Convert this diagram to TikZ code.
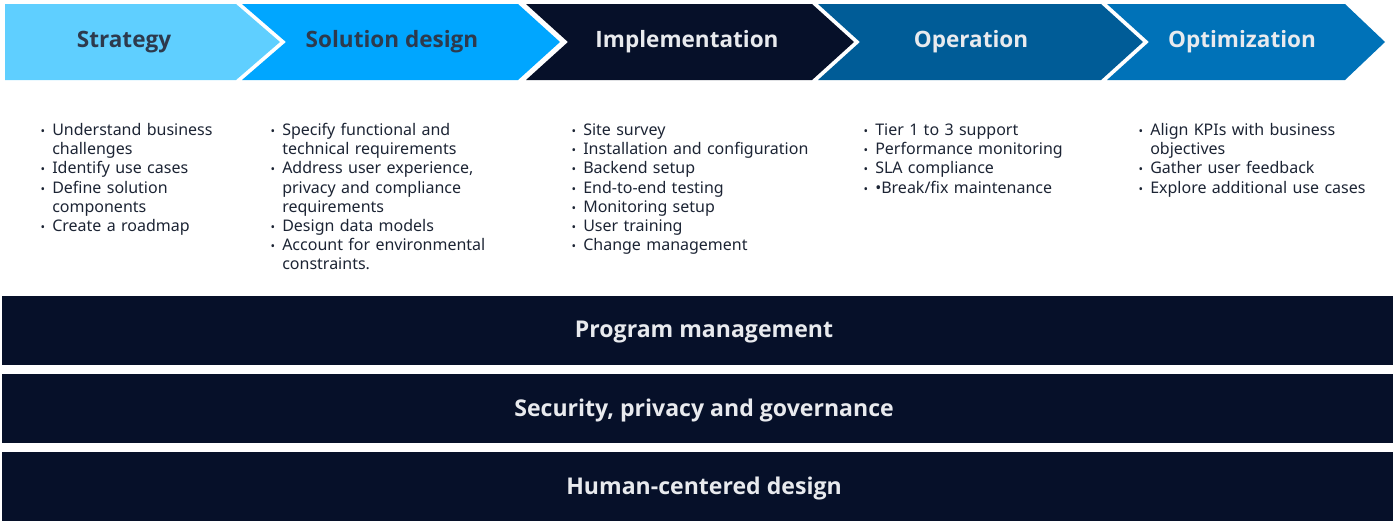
\documentclass[tikz,border=0pt]{standalone}
\usepackage{fontspec}
\setmainfont{Noto Sans}
\newfontfamily\headfont{Open Sans}
\usepackage{enumitem}
\usetikzlibrary{positioning}

\definecolor{skyblue}{RGB}{95,207,255}
\definecolor{brightblue}{RGB}{0,166,255}
\definecolor{nightblue}{RGB}{6,16,41}
\definecolor{deepblue}{RGB}{0,92,151}
\definecolor{oceanblue}{RGB}{0,114,184}
\definecolor{slateink}{RGB}{45,58,77}
\definecolor{bodyink}{RGB}{28,36,52}
\definecolor{paleink}{RGB}{232,234,238}

\tikzstyle{phase}=[
	inner sep=0pt,
	font=\headfont\fontsize{16.9}{19}\selectfont\bfseries
]
\tikzstyle{tasks}=[
	anchor=north west,
	inner sep=0pt,
	text width=220pt,
	text=bodyink,
	font=\fontsize{12}{14.4}\selectfont
]
\tikzstyle{band}=[
	rectangle,
	fill=nightblue,
	inner sep=0pt,
	outer sep=0pt,
	minimum width=1043.25pt,
	minimum height=51.75pt,
	node distance=6.75pt
]
\tikzstyle{bandlabel}=[
	text=paleink,
	xshift=4.9pt,
	yshift=-1.2pt,
	font=\headfont\fontsize{17.3}{20}\selectfont\bfseries
]
\setlist[itemize]{nosep, leftmargin=11.25pt, labelsep=5.4pt,
	label={\fontsize{9}{9}\selectfont\textbullet}}

\begin{document}
\begin{tikzpicture}[x=0.75pt, y=-0.75pt]
\useasboundingbox (0,0) rectangle (1395,522);

% phases
\fill[skyblue] (5,4) -- (236,4) -- (280,42) -- (236,80) -- (5,80) -- cycle;
\fill[brightblue] (242,4) -- (518,4) -- (560,42) -- (518,80) -- (242,80) -- (286,42) -- cycle;
\fill[nightblue] (526,4) -- (812,4) -- (854,42) -- (812,80) -- (526,80) -- (568,42) -- cycle;
\fill[deepblue] (818,4) -- (1101,4) -- (1143,42) -- (1101,80) -- (818,80) -- (860,42) -- cycle;
\fill[oceanblue] (1107,4) -- (1345,4) -- (1385,42) -- (1345,80) -- (1107,80) -- (1149,42) -- cycle;

\node [phase, text=slateink] (Strategy) at (124,42) {Strategy};
\node [phase, text=slateink] (SolutionDesign) at (392,42) {Solution design};
\node [phase, text=paleink] (Implementation) at (687,42) {Implementation};
\node [phase, text=paleink] (Operation) at (971,42) {Operation};
\node [phase, text=paleink] (Optimization) at (1242,42) {Optimization};

% task lists
\node [tasks] (StrategyTasks) at (37,116) {
	\begin{itemize}
	\item Understand business\newline challenges
	\item Identify use cases
	\item Define solution\newline components
	\item Create a roadmap
	\end{itemize}};
\node [tasks] (DesignTasks) at (267,116) {
	\begin{itemize}
	\item Specify functional and\newline technical requirements
	\item Address user experience,\newline privacy and compliance\newline requirements
	\item Design data models
	\item Account for environmental\newline constraints.
	\end{itemize}};
\node [tasks] (ImplementationTasks) at (568,116) {
	\begin{itemize}
	\item Site survey
	\item Installation and configuration
	\item Backend setup
	\item End-to-end testing
	\item Monitoring setup
	\item User training
	\item Change management
	\end{itemize}};
\node [tasks] (OperationTasks) at (860,116) {
	\begin{itemize}
	\item Tier 1 to 3 support
	\item Performance monitoring
	\item SLA compliance
	\item •Break/fix maintenance
	\end{itemize}};
\node [tasks] (OptimizationTasks) at (1135,116) {
	\begin{itemize}
	\item Align KPIs with business\newline objectives
	\item Gather user feedback
	\item Explore additional use cases
	\end{itemize}};

% cross-cutting bands
\node [band, label={[bandlabel]center:Program management}] (Program) at (697.5,330.5) {};
\node [band, below=of Program, label={[bandlabel]center:Security, privacy and governance}] (Security) {};
\node [band, below=of Security, label={[bandlabel]center:Human-centered design}] (HumanCentered) {};
\end{tikzpicture}
\end{document}
